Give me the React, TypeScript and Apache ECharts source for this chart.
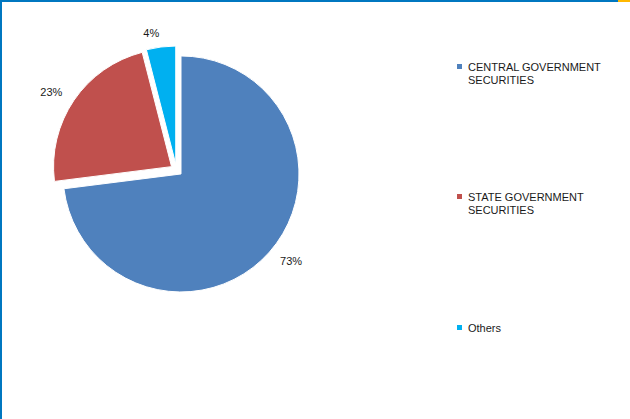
import React, { useEffect, useRef } from "react";
import * as echarts from "echarts";

const categories = ["CENTRAL GOVERNMENT SECURITIES", "STATE GOVERNMENT SECURITIES", "Others"];
const values = [73, 23, 4];
const colors = ["#4F81BD", "#C0504D", "#00B0F0"];
const legendTops = [60, 190, 321];

export default function App() {
  const ref = useRef<HTMLDivElement>(null);
  useEffect(() => {
    document.body.style.margin = "0";
    const chart = echarts.init(ref.current!, null, { renderer: "svg" });
    const font = "'Liberation Sans', Arial, sans-serif";
    const legends = categories.map((name, i) => {
      const twoLine = name.includes(" SECURITIES");
      return {
        data: [name],
        orient: "vertical",
        left: 455,
        top: legendTops[i],
        padding: 0,
        itemWidth: 7,
        itemHeight: twoLine ? 20 : 7,
        icon: twoLine ? "path://M0,0h7v7h-7z M0,20h0.01v0.01h-0.01z" : "path://M0,0h7v7h-7z",
        selectedMode: false,
        formatter: (n: string) => n.replace(" SECURITIES", "\nSECURITIES"),
        textStyle: {
          fontFamily: font,
          fontSize: 11,
          lineHeight: 13,
          color: "#1a1a1a",
        },
      };
    });
    chart.setOption({
      animation: false,
      color: colors,
      legend: legends,
      graphic: [
        { type: "rect", left: 0, top: 0, shape: { width: 618, height: 2 }, style: { fill: "#0077C0" } },
        { type: "rect", left: 618, top: 0, shape: { width: 12, height: 2 }, style: { fill: "#FFB800" } },
        { type: "rect", left: 0, top: 0, shape: { width: 2, height: 419 }, style: { fill: "#0077C0" } },
      ],
      series: [
        {
          type: "pie",
          center: [176.5, 170],
          radius: 118,
          startAngle: 90,
          clockwise: true,
          selectedMode: "multiple",
          selectedOffset: 6,
          avoidLabelOverlap: false,
          itemStyle: { borderColor: "#fff", borderWidth: 1 },
          select: { itemStyle: { borderColor: "#fff", borderWidth: 1 } },
          emphasis: { disabled: true },
          label: {
            show: true,
            position: "outside",
            formatter: "{d}%",
            fontFamily: font,
            fontSize: 11,
            color: "#1a1a1a",
            distanceToLabelLine: 0,
          },
          labelLine: { show: false, length: 14, length2: 0 },
          data: categories.map((name, i) => ({ name, value: values[i], selected: true })),
        },
      ],
    });
    return () => chart.dispose();
  }, []);
  return <div ref={ref} style={{ width: 630, height: 419 }} />;
}
